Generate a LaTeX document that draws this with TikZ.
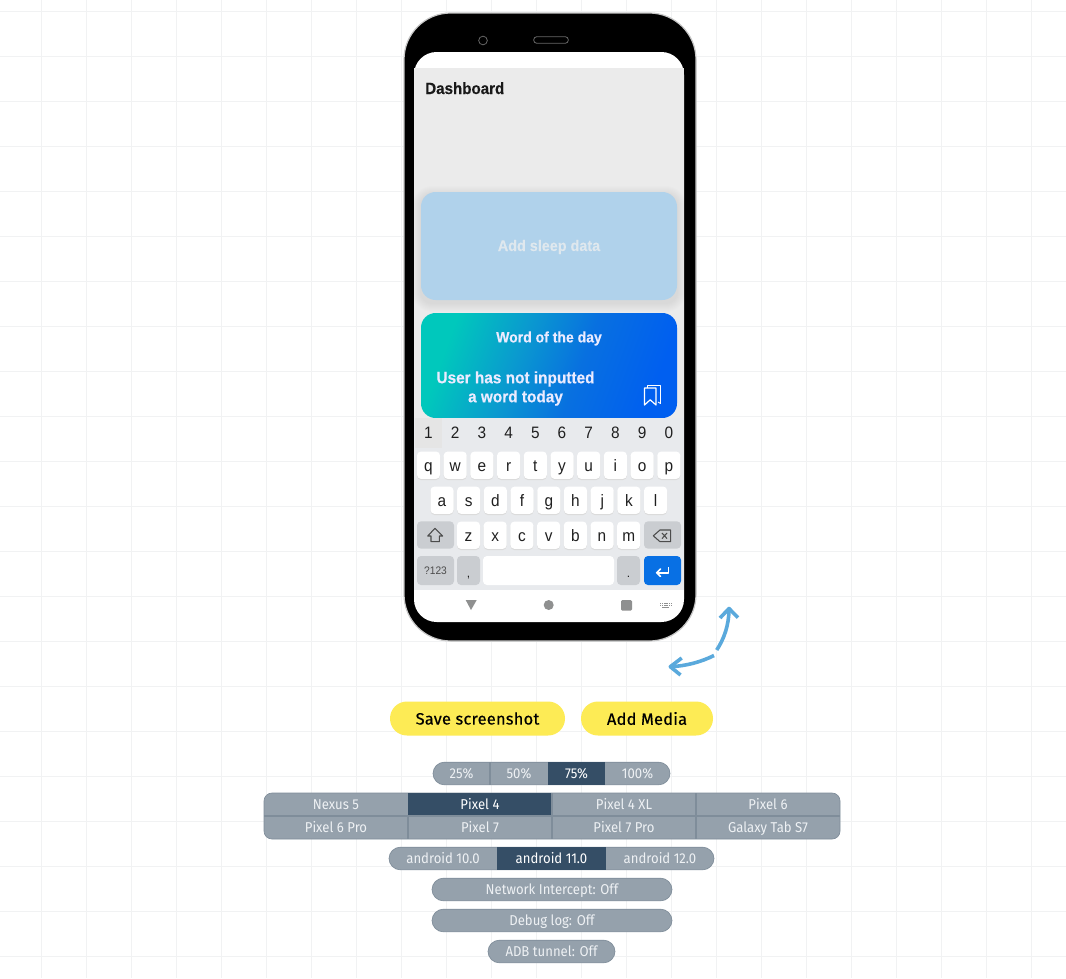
\documentclass[tikz,border=0pt]{standalone}
\usepackage{fontspec}
\setmainfont{Liberation Sans}
\newfontfamily\rb[FakeStretch=0.93,BoldFeatures={FakeBold=0.25}]{Liberation Sans}
\newfontfamily\uifont[FakeStretch=0.92]{Fira Sans}
\newfontfamily\uimed[FakeBold=0.4,LetterSpace=1.5]{Fira Sans}
\usetikzlibrary{arrows.meta}
\definecolor{gridc}{HTML}{F1F2F3}
\definecolor{segc}{HTML}{95A1AC}
\definecolor{segd}{HTML}{354E66}
\definecolor{segb}{HTML}{7F8D9A}
\definecolor{segt}{HTML}{EEF1F4}
\definecolor{yell}{HTML}{FDEB55}
\definecolor{kbbg}{HTML}{E8EAED}
\definecolor{kbgr}{HTML}{CACDD1}
\definecolor{sleep}{HTML}{B0D2EB}
\definecolor{sleept}{HTML}{DFE8EE}
\definecolor{screen}{HTML}{EBEBEB}
\definecolor{arrowc}{HTML}{5AA9DC}
\definecolor{navc}{HTML}{8F9090}
\definecolor{enterc}{HTML}{0870E4}
\definecolor{wa}{HTML}{00C8BC}
\definecolor{wb}{HTML}{0A9ACF}
\definecolor{wm}{HTML}{0870E0}
\definecolor{wc}{HTML}{005FF0}
\pgfdeclarehorizontalshading{wordgrad}{100bp}{color(0bp)=(wa);color(26bp)=(wa);color(42bp)=(wb);color(57bp)=(wm);color(75bp)=(wc);color(100bp)=(wc)}
\tikzset{
  px/.style={x=0.75pt,y=-0.75pt},
  wkey/.style={fill=white,rounded corners=3pt,minimum width=17.25pt,minimum height=20.5pt,inner sep=0pt,draw=none},
  gkey/.style={fill=kbgr,rounded corners=3pt,minimum height=20.5pt,inner sep=0pt,draw=none},
  klabel/.style={anchor=base,inner sep=0pt,font=\rb\fontsize{12.4}{14}\selectfont,text=black!88},
  seg/.style={fill=segc,inner sep=0pt,minimum height=17pt,text=segt,text height=7.8pt,text depth=0.6pt,font=\uifont\fontsize{10.7}{12}\selectfont},
  segon/.style={seg,fill=segd,text=white},
  segtext/.style={inner sep=0pt,text=segt,text height=7.8pt,text depth=0.6pt,font=\uifont\fontsize{10.7}{12}\selectfont},
  segline/.style={draw=segb,line width=0.9pt},
  pill/.style={fill=segc,draw=segb,line width=0.5pt,rounded corners=8.6pt,inner sep=0pt,minimum height=17pt,text=segt,text height=7.8pt,text depth=0.6pt,font=\uifont\fontsize{10.7}{12}\selectfont},
  ybtn/.style={fill=yell,rounded corners=12.7pt,inner sep=0pt,minimum height=25.5pt,text=black,font=\uimed\fontsize{12.3}{14}\selectfont},
  arrowline/.style={draw=arrowc,line width=2.7pt},
  wtext/.style={inner sep=0pt,text=white!92!blue,font=\rb\bfseries\fontsize{11.3}{14.25}\selectfont,align=center},
}
\begin{document}
\begin{tikzpicture}[px]
\useasboundingbox (0,0) rectangle (1066,978);
\fill[white] (0,0) rectangle (1066,978);
% grid
\foreach \k in {0,...,22} \draw[gridc,line width=0.75pt] ({41.5+45*\k},0) -- ({41.5+45*\k},978);
\foreach \k in {0,...,21} \draw[gridc,line width=0.75pt] (0,{11.5+45*\k}) -- (1066,{11.5+45*\k});
% phone
\node[draw=black!22,line width=0.9pt,fill=black,rounded corners=35pt,minimum width=219pt,minimum height=471pt,inner sep=0pt] (phone) at (550,327) {};
\node[draw=black!60,line width=0.6pt,circle,minimum size=6.5pt,inner sep=0pt] (cam) at (483,40.5) {};
\node[draw=black!60,line width=0.6pt,rounded corners=2.4pt,minimum width=26pt,minimum height=5pt,inner sep=0pt] (speaker) at (551,40) {};
% screen
\node[fill=white,rounded corners=17pt,minimum width=202.5pt,minimum height=427.5pt,inner sep=0pt] (screenbox) at (549,337) {};
\fill[screen] (414,68) rectangle (684,419);
\node[anchor=base west,inner sep=0pt,font=\rb\bfseries\fontsize{12.2}{14}\selectfont,text=black!90] (dash) at (425,94) {Dashboard};
% sleep card with soft shadow
\foreach \g in {9,8,7,6,5,4,3,2,1}
  \fill[black,opacity=0.009,rounded corners={(11+\g)*0.75pt}] ({421-\g},{192-\g+3}) rectangle ({677+\g},{300+\g+3});
\node[fill=sleep,rounded corners=11pt,minimum width=192pt,minimum height=81pt,inner sep=0pt] (sleepcard) at (549,246) {};
\node[inner sep=0pt,text=sleept,font=\rb\bfseries\fontsize{11.6}{14}\selectfont] (sleeptext) at (549,247) {Add sleep data};
% word card
\shade[rounded corners=11pt,shading=wordgrad,shading angle=-20] (421,313) rectangle (677,418);
\node[wtext] (wod) at (549,338.5) {Word of the day};
\node[wtext,font=\rb\bfseries\fontsize{12.4}{14.25}\selectfont] (nouser) at (515.5,388.5) {User has not inputted\\a word today};
\draw[white,line width=0.9pt,line join=round] (644.5,388) -- (656,388) -- (656,405) -- (650.2,399.8) -- (644.5,405) -- cycle;
\draw[white,line width=0.7pt,line join=round] (647.5,388) -- (647.5,385.5) -- (660.5,385.5) -- (660.5,403.5) -- (658,402);
% keyboard
\fill[kbbg] (414,418) rectangle (684,590);
\fill[black!10] (415,418) rectangle (442,448);
\foreach \t [count=\i from 0] in {1,2,3,4,5,6,7,8,9,0} {
  \node[klabel] (d\i) at ({428.5+26.7*\i},438.5) {\t};
}
\foreach \t [count=\i from 0] in {q,w,e,r,t,y,u,i,o,p} {
  \fill[black!14,rounded corners=3pt] ({417+26.7*\i},453) rectangle ({440+26.7*\i},480);
  \node[wkey] (q\i) at ({428.5+26.7*\i},465.2) {};
  \node[klabel] (ql\i) at ({428.5+26.7*\i},471) {\t};
}
\foreach \t [count=\i from 0] in {a,s,d,f,g,h,j,k,l} {
  \fill[black!14,rounded corners=3pt] ({430.5+26.7*\i},488) rectangle ({453.5+26.7*\i},515);
  \node[wkey] (a\i) at ({442+26.7*\i},500.2) {};
  \node[klabel] (al\i) at ({442+26.7*\i},506) {\t};
}
\foreach \t [count=\i from 0] in {z,x,c,v,b,n,m} {
  \fill[black!14,rounded corners=3pt] ({457+26.7*\i},523) rectangle ({480+26.7*\i},550);
  \node[wkey] (z\i) at ({468.5+26.7*\i},535.2) {};
  \node[klabel] (zl\i) at ({468.5+26.7*\i},541) {\t};
}
\node[gkey,minimum width=27.75pt] (shift) at (435.5,535) {};
\node[gkey,minimum width=27.75pt] (bksp) at (662.5,535) {};
\draw[black!70,line width=0.8pt,line join=round] (435,528.3) -- (442.7,536) -- (439.3,536) -- (439.3,541.7) -- (431,541.7) -- (431,536) -- (427.7,536) -- cycle;
\draw[black!70,line width=0.8pt,line join=round] (653.3,535.8) -- (660,530) -- (670.7,530) -- (670.7,541.7) -- (660,541.7) -- cycle;
\draw[black!70,line width=0.8pt] (662,533) -- (667,538.6) (667,533) -- (662,538.6);
\node[gkey,minimum width=27.75pt,minimum height=21.75pt,font=\rb\fontsize{8.2}{10}\selectfont,text=black!70] (num) at (435.5,570.5) {?123};
\node[gkey,minimum width=17.25pt,minimum height=21.75pt] (comma) at (468.5,570.5) {};
\node[klabel,font=\fontsize{9}{10}\selectfont] (commal) at (468.5,577) {,};
\node[fill=white,rounded corners=3pt,minimum width=98.25pt,minimum height=21.75pt,inner sep=0pt] (space) at (548.5,570.5) {};
\node[gkey,minimum width=17.25pt,minimum height=21.75pt] (dot) at (628.5,570.5) {};
\node[klabel,font=\fontsize{9}{10}\selectfont] (dotl) at (628.5,577) {.};
\node[fill=enterc,rounded corners=3pt,minimum width=27.75pt,minimum height=21.75pt,inner sep=0pt] (enter) at (662.5,570.5) {};
\draw[white,line width=1.2pt,line join=round] (668.3,566.8) -- (668.3,572.7) -- (657,572.7);
\draw[white,line width=1.2pt,line join=round,line cap=round] (660.5,569) -- (656.7,572.7) -- (660.5,576.4);
% nav bar
\fill[navc] (465.7,600) -- (476.7,600) -- (471,610) -- cycle;
\fill[navc] (548.7,605) circle[radius=5];
\fill[navc,rounded corners=1pt] (621,600) rectangle (632,610.7);
\foreach \r in {603,605} \foreach \c in {660,661.8,...,671} \fill[navc] (\c,\r) rectangle ++(1.1,1.1);
\fill[navc] (662,607) rectangle (669,607.9);
% rotate arrow
\draw[arrowline] (670.5,666.7) .. controls (686,666) and (701,662) .. (714,655.5);
\draw[arrowline] (716.7,650) .. controls (724,639) and (729,625) .. (729,609);
\draw[arrowline,line join=round] (681.7,658) -- (670.3,666.7) -- (680.5,675);
\draw[arrowline,line join=round] (720,618) -- (729,608.5) -- (738,617.7);
% buttons
\node[ybtn,minimum width=131.25pt] (save) at (477.5,718.5) {Save screenshot};
\node[ybtn,minimum width=99pt] (media) at (647,718.5) {Add Media};
% zoom row
\node[pill,minimum width=177.75pt] (zoombg) at (551.5,773.5) {};
\node[segon,minimum width=42.75pt] (z75) at (576.5,773.5) {75\%};
\node[segtext] (z25) at (461.5,773.5) {25\%};
\node[segtext] (z50) at (519,773.5) {50\%};
\node[segtext] (z100) at (637.5,773.5) {100\%};
\draw[segline] (490,762) -- (490,785);
% devices
\node[pill,rounded corners=6pt,minimum width=432pt,minimum height=34.5pt] (devbg) at (552,816) {};
\node[segon,minimum width=108pt,minimum height=17.25pt] (p4) at (480,804.5) {Pixel 4};
\draw[segline] (264,816) -- (840,816);
\draw[segline] (408,816) -- (408,839) (552,793) -- (552,839) (696,793) -- (696,839);
\foreach \t/\x/\y/\n in {Nexus 5/336/804.5/a,Pixel 4 XL/624/804.5/b,Pixel 6/768/804.5/c,Pixel 6 Pro/336/827.5/d,Pixel 7/480/827.5/e,Pixel 7 Pro/624/827.5/f,Galaxy Tab S7/768/827.5/g}
  \node[segtext] (dev\n) at (\x,\y) {\t};
% android
\node[pill,minimum width=243.75pt] (andbg) at (551.5,858.5) {};
\node[segon,minimum width=81.75pt] (a11) at (551.5,858.5) {android 11.0};
\node[segtext] (a10) at (443,858.5) {android 10.0};
\node[segtext] (a12) at (660,858.5) {android 12.0};
% toggles
\node[pill,minimum width=180pt] (net) at (552,889.5) {Network Intercept: Off};
\node[pill,minimum width=180pt] (dbg) at (552,920.5) {Debug log: Off};
\node[pill,minimum width=95.25pt] (adb) at (551.5,951.5) {ADB tunnel: Off};
\end{tikzpicture}
\end{document}
